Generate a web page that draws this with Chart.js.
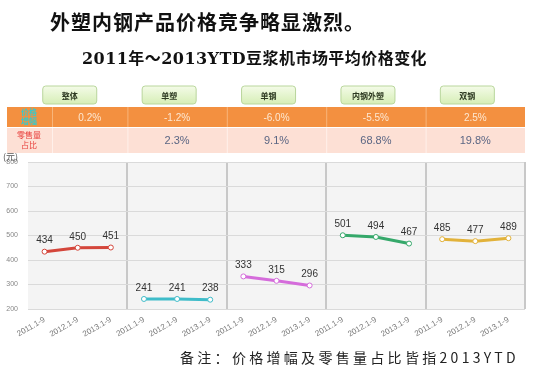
<!DOCTYPE html>
<html>
<head>
<meta charset="utf-8">
<script src="https://cdn.jsdelivr.net/npm/chart.js@4.4.0/dist/chart.umd.min.js"></script>
<style>
  body { margin: 0; background: #fff; }
  #wrap { position: relative; width: 540px; height: 374px; }
  canvas { position: absolute; left: 0; top: 0; }
  .txt { position: absolute; white-space: nowrap; color: #111; }
  #title { left: 50px; top: 7px; font: bold 20px "Noto Sans CJK SC", sans-serif; letter-spacing: 1px; }
  #subtitle { left: 82px; top: 45px; font: bold 16px "DejaVu Serif", "Noto Sans CJK SC", serif; letter-spacing: 0.45px; }
  #note { left: 180px; top: 347px; font: 14px "Noto Sans CJK SC", sans-serif; letter-spacing: 3.3px; color: #222; }
</style>
</head>
<body>
<div id="wrap">
  <canvas id="chart" width="540" height="374"></canvas>
  <div class="txt" id="title">外塑内钢产品价格竞争略显激烈。</div>
  <div class="txt" id="subtitle">2011年～2013YTD豆浆机市场平均价格变化</div>
  <div class="txt" id="note">备注：价格增幅及零售量占比皆指2013YTD</div>
</div>
<script>
const groups = ['整体', '单塑', '单钢', '内钢外塑', '双钢'];
const periods = ['2011.1-9', '2012.1-9', '2013.1-9'];
const growth = ['0.2%', '-1.2%', '-6.0%', '-5.5%', '2.5%'];
const share = ['', '2.3%', '9.1%', '68.8%', '19.8%'];
const prices = [
    [434, 450, 451],
    [241, 241, 238],
    [333, 315, 296],
    [501, 494, 467],
    [485, 477, 489]
];
const colors = ['#d4463b', '#3fbcc9', '#d56cdb', '#35a86a', '#e2b23a'];
const yTicks = [200, 300, 400, 500, 600, 700, 800];

// 15 categories, 3 periods per group
const labels = [];
groups.forEach(() => periods.forEach(p => labels.push(p)));

const datasets = groups.map((g, gi) => {
    const data = labels.map(() => null);
    prices[gi].forEach((v, i) => { data[gi * 3 + i] = v; });
    return {
        label: g,
        data: data,
        borderColor: colors[gi],
        borderWidth: 3,
        pointRadius: 2.5,
        pointBorderWidth: 1,
        pointBackgroundColor: '#fff',
        pointBorderColor: colors[gi],
        spanGaps: false,
        tension: 0
    };
});

const plotBg = {
    id: 'plotBg',
    beforeDraw(chart) {
        const a = chart.chartArea;
        const ctx = chart.ctx;
        ctx.save();
        ctx.fillStyle = '#f4f4f4';
        ctx.fillRect(a.left, a.top, a.right - a.left, a.bottom - a.top);
        ctx.restore();
    },
    beforeDatasetsDraw(chart) {
        const a = chart.chartArea;
        const ctx = chart.ctx;
        ctx.save();
        ctx.fillStyle = '#c8c8c8';
        ctx.fillRect(a.right - 1, a.top, 2, a.bottom - a.top);
        ctx.restore();
    }
};

const valueLabels = {
    id: 'valueLabels',
    afterDatasetsDraw(chart) {
        const ctx = chart.ctx;
        ctx.save();
        ctx.font = '10px "Liberation Sans", Arial, sans-serif';
        ctx.fillStyle = '#333';
        ctx.textAlign = 'center';
        ctx.textBaseline = 'bottom';
        chart.data.datasets.forEach((ds, di) => {
            chart.getDatasetMeta(di).data.forEach((pt, i) => {
                if (ds.data[i] === null) return;
                ctx.fillText(String(ds.data[i]), pt.x, pt.y - 6);
            });
        });
        ctx.restore();
    }
};

function roundRect(ctx, x, y, w, h, r) {
    ctx.beginPath();
    ctx.moveTo(x + r, y);
    ctx.arcTo(x + w, y, x + w, y + h, r);
    ctx.arcTo(x + w, y + h, x, y + h, r);
    ctx.arcTo(x, y + h, x, y, r);
    ctx.arcTo(x, y, x + w, y, r);
    ctx.closePath();
}

// header table above the plot, columns follow the x scale groups
const headerTable = {
    id: 'headerTable',
    afterDraw(chart) {
        const ctx = chart.ctx;
        const x = chart.scales.x;
        const catW = (x.right - x.left) / labels.length;
        const rowTop = 107, rowMid = 127, rowBot = 153;
        const firstLeft = 52;
        ctx.save();
        // rows
        ctx.fillStyle = '#f39040';
        ctx.fillRect(7, rowTop, x.right - 7, rowMid - rowTop);
        ctx.fillStyle = '#fde0d5';
        ctx.fillRect(7, rowMid + 1, x.right - 7, rowBot - rowMid - 1);
        // column separators
        const seps = [firstLeft];
        for (let g = 1; g < groups.length; g++) seps.push(x.left + g * 3 * catW);
        seps.forEach(sx => {
            ctx.fillStyle = '#f8b57a';
            ctx.fillRect(sx, rowTop, 1, rowMid - rowTop);
            ctx.fillStyle = '#fff0ea';
            ctx.fillRect(sx, rowMid + 1, 1, rowBot - rowMid - 1);
        });
        // left label cells
        ctx.textAlign = 'center';
        ctx.textBaseline = 'middle';
        ctx.font = 'bold 8px "Noto Sans CJK SC", sans-serif';
        ctx.fillStyle = '#3cc8c8';
        ctx.fillText('价格', 29, 112);
        ctx.fillText('增幅', 29, 121);
        ctx.font = '8px "Noto Sans CJK SC", sans-serif';
        ctx.fillStyle = '#e8403c';
        ctx.fillText('零售量', 29, 135);
        ctx.fillText('占比', 29, 145);
        // group cells
        groups.forEach((g, gi) => {
            const left = gi === 0 ? firstLeft : x.left + gi * 3 * catW;
            const right = x.left + (gi + 1) * 3 * catW;
            const cx = (left + right) / 2;
            ctx.font = '10px "Liberation Sans", Arial, sans-serif';
            ctx.fillStyle = '#fde8d2';
            ctx.fillText(growth[gi], cx, (rowTop + rowMid) / 2 + 1);
            ctx.font = '11px "Liberation Sans", Arial, sans-serif';
            ctx.fillStyle = '#5b6684';
            ctx.fillText(share[gi], cx, (rowMid + rowBot) / 2 + 1);
            // green buttons
            const bx = x.left + gi * 3 * catW + 3 * catW * 0.42;
            const bw = 54;
            const grad = ctx.createLinearGradient(0, 86, 0, 104);
            grad.addColorStop(0, '#f4fbe8');
            grad.addColorStop(1, '#d6eeb6');
            roundRect(ctx, bx - bw / 2, 86, bw, 18, 3);
            ctx.fillStyle = grad;
            ctx.fill();
            ctx.strokeStyle = '#b9d69c';
            ctx.lineWidth = 1;
            ctx.stroke();
            ctx.font = 'bold 8px "Noto Sans CJK SC", sans-serif';
            ctx.fillStyle = '#2e3a22';
            ctx.fillText(g, bx, 95.5);
        });
        // unit
        ctx.font = '9px "Noto Sans CJK SC", sans-serif';
        ctx.fillStyle = '#555';
        ctx.textAlign = 'left';
        ctx.fillText('(元)', 3, 157);
        ctx.restore();
    }
};

new Chart(document.getElementById('chart'), {
    type: 'line',
    data: { labels: labels, datasets: datasets },
    plugins: [plotBg, valueLabels, headerTable],
    options: {
        responsive: false,
        animation: false,
        devicePixelRatio: 1,
        layout: { padding: { top: 162, right: 15, left: 0, bottom: 0 } },
        plugins: {
            legend: { display: false },
            tooltip: { enabled: false }
        },
        scales: {
            x: {
                offset: true,
                afterFit: s => { s.height = 65; },
                grid: {
                    offset: true,
                    drawTicks: false,
                    color: c => (c.index % 3 === 0 && c.index > 0) ? '#c8c8c8' : 'rgba(0,0,0,0)',
                    lineWidth: 2
                },
                border: { display: false },
                ticks: {
                    autoSkip: false,
                    minRotation: 30,
                    maxRotation: 30,
                    padding: 6,
                    color: '#777',
                    font: { size: 8, family: 'Liberation Sans, Arial, sans-serif' }
                }
            },
            y: {
                min: 200,
                max: 800,
                afterFit: s => { s.width = 28; },
                afterBuildTicks: s => { s.ticks = yTicks.map(v => ({ value: v })); },
                grid: { color: '#dadada', lineWidth: 1, drawTicks: false },
                border: { display: false },
                ticks: {
                    padding: 10,
                    color: '#888',
                    font: { size: 7, family: 'Liberation Sans, Arial, sans-serif' }
                }
            }
        }
    }
});
</script>
</body>
</html>
